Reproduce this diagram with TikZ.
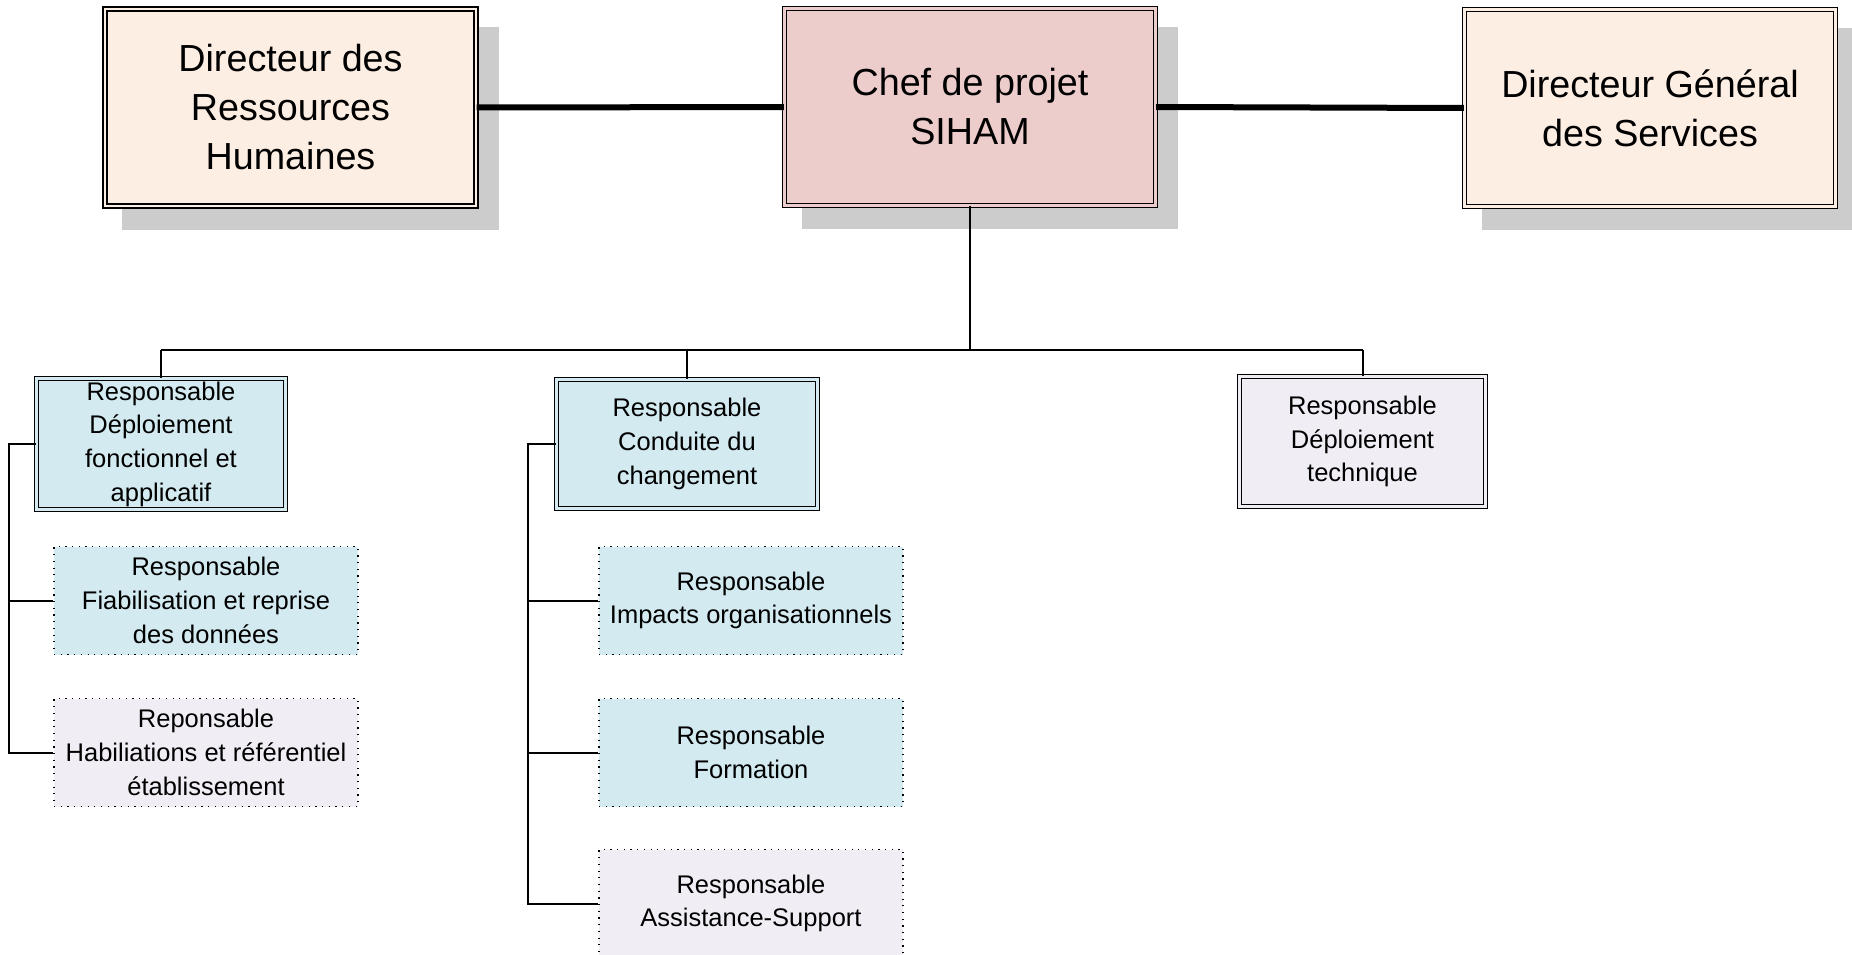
\documentclass[tikz,border=0pt]{standalone}
\usepackage{fontspec}
\setmainfont{Liberation Sans}
\usetikzlibrary{shadows}
\definecolor{peach}{RGB}{253,238,228}
\definecolor{pinkc}{RGB}{237,204,204}
\definecolor{lblue}{RGB}{210,234,240}
\definecolor{lgray}{RGB}{240,238,244}
\definecolor{shadowc}{RGB}{204,204,204}
\begin{document}
\begin{tikzpicture}[x=1pt,y=-1pt,
 topbox/.style={rectangle, draw=black, line width=1.3pt, double=#1, double distance=2.6pt, fill=#1, inner sep=0pt, minimum width=371pt, minimum height=197pt, align=center, font=\fontsize{37.7}{49}\selectfont, drop shadow={shadow xshift=20pt, shadow yshift=-21pt, fill=shadowc, draw=shadowc, line width=5.2pt, opacity=1}},
 midbox/.style={rectangle, draw=black, line width=1.1pt, double=#1, double distance=2.4pt, fill=#1, inner sep=0pt, align=center, font=\fontsize{25.5}{33.7}\selectfont},
 subbox/.style={rectangle, draw=black, line width=1.2pt, dash pattern=on 1.2pt off 5.5pt, fill=#1, inner sep=0pt, minimum width=304pt, minimum height=108pt, align=center, font=\fontsize{25.5}{33.7}\selectfont},
 link/.style={draw=black, line width=2pt},
 heavy/.style={draw=black, line width=6pt}
]
\useasboundingbox (0,0) rectangle (1852,955);
% top row
\node[topbox=peach] (drh) at (290.5,107.5) {Directeur des\\Ressources\\Humaines};
\node[topbox=pinkc] (chef) at (970,107) {Chef de projet\\SIHAM};
\node[topbox=peach] (dgs) at (1650,108) {Directeur Général\\des Services};
% second row
\node[midbox=lblue, minimum width=249pt, minimum height=131pt] (dfa) at (161,444) {Responsable\\Déploiement\\fonctionnel et\\applicatif};
\node[midbox=lblue, minimum width=261pt, minimum height=129pt] (cdc) at (687,444) {Responsable\\Conduite du\\changement};
\node[midbox=lgray, minimum width=246pt, minimum height=130pt] (dt) at (1362.5,441.5) {Responsable\\Déploiement\\technique};
% sub boxes
\node[subbox=lblue] (fiab) at (206,600.5) {Responsable\\Fiabilisation et reprise\\des données};
\node[subbox=lgray] (habil) at (206,752.5) {Reponsable\\Habiliations et référentiel\\établissement};
\node[subbox=lblue] (impacts) at (751,600.5) {Responsable\\Impacts organisationnels};
\node[subbox=lblue] (formation) at (751,752.5) {Responsable\\Formation};
\node[subbox=lgray] (assist) at (751,903.5) {Responsable\\Assistance-Support};
% connectors
\draw[heavy] (drh.east) -- (chef.west);
\draw[heavy] (chef.east) -- (dgs.west);
\coordinate (bus) at (970,350);
\draw[link] (chef.south) -- (bus);
\draw[link] (dfa.north |- bus) -- (dt.north |- bus);
\draw[link] (dfa.north |- bus) -- (dfa.north);
\draw[link] (cdc.north |- bus) -- (cdc.north);
\draw[link] (dt.north |- bus) -- (dt.north);
\coordinate (lb) at (9,0);
\draw[link] (dfa.west) -- (dfa.west -| lb) |- (habil.west);
\draw[link] (fiab.west -| lb) -- (fiab.west);
\coordinate (mb) at (528,0);
\draw[link] (cdc.west) -- (cdc.west -| mb) |- (assist.west);
\draw[link] (impacts.west -| mb) -- (impacts.west);
\draw[link] (formation.west -| mb) -- (formation.west);
\end{tikzpicture}
\end{document}
